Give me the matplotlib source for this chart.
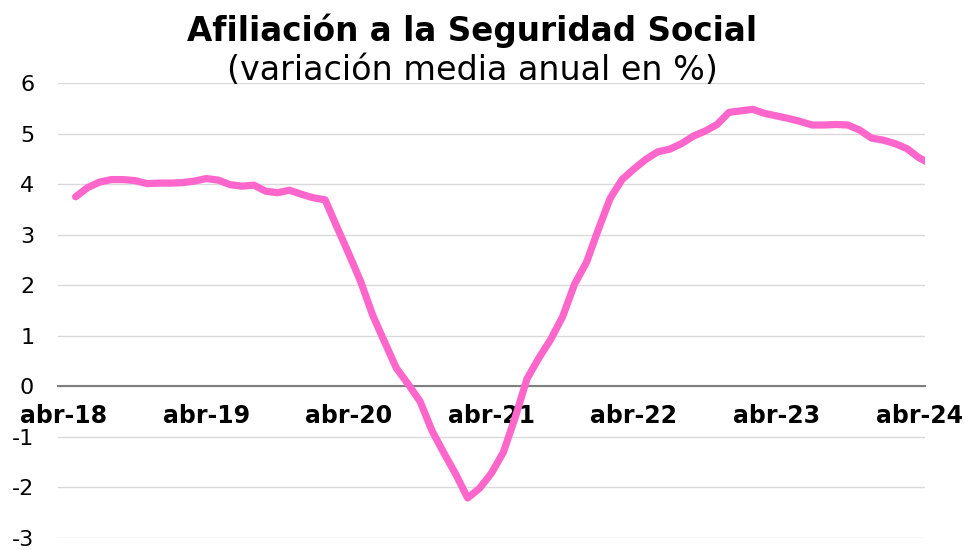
import numpy as np
import matplotlib.pyplot as plt

plt.rcParams["axes.unicode_minus"] = False

# ── datos: variación media anual de afiliados (%), may-18 .. may-24 ──
valores = [
    3.75, 3.93, 4.04, 4.09, 4.09, 4.07, 4.01, 4.02, 4.02, 4.03, 4.06,   # may-18 .. mar-19
    4.11, 4.08, 3.99, 3.96, 3.98, 3.86, 3.83, 3.88, 3.80, 3.73, 3.69, 3.15,  # abr-19 .. mar-20
    2.62, 2.07, 1.41, 0.88, 0.36, 0.04, -0.30, -0.88, -1.32, -1.74, -2.21, -2.02,  # abr-20 .. mar-21
    -1.72, -1.31, -0.62, 0.15, 0.56, 0.93, 1.38, 2.02, 2.45, 3.10, 3.72, 4.09,  # abr-21 .. mar-22
    4.30, 4.49, 4.64, 4.69, 4.80, 4.95, 5.05, 5.18, 5.42, 5.45, 5.48, 5.40,  # abr-22 .. mar-23
    5.35, 5.30, 5.24, 5.17, 5.17, 5.18, 5.17, 5.07, 4.91, 4.87, 4.80, 4.70,  # abr-23 .. mar-24
    4.52, 4.40,  # abr-24, may-24
]
meses = np.arange(1, len(valores) + 1)   # 0 = abr-18

etiquetas = ["abr-18", "abr-19", "abr-20", "abr-21", "abr-22", "abr-23", "abr-24"]
pos_etiquetas = [0, 12, 24, 36, 48, 60, 72]

fig = plt.figure(figsize=(9.64, 5.5), dpi=100)
ax = fig.add_axes([0.060, 0.022, 0.8995, 0.827])

ax.plot(meses, valores, color="#ff66cc", linewidth=5.2,
        solid_capstyle="round", solid_joinstyle="round", zorder=3)

ax.set_xlim(-0.5, 72.5)
ax.set_ylim(-3, 6)
ax.set_yticks(range(-3, 7))
ax.grid(axis="y", color="#d9d9d9", linewidth=1.0)
ax.set_axisbelow(True)

for s in ["top", "right", "left"]:
    ax.spines[s].set_visible(False)
ax.spines["bottom"].set_position(("data", 0))
ax.spines["bottom"].set_color("#7f7f7f")
ax.spines["bottom"].set_linewidth(1.5)
ax.spines["bottom"].set_zorder(2)

ax.set_xticks(pos_etiquetas)
ax.set_xticklabels(etiquetas, fontsize=17, fontweight="bold")
ax.tick_params(axis="x", length=0, pad=13)
ax.tick_params(axis="y", length=0, pad=17, labelsize=16)

fig.text(0.49, 1 - 41 / 550, "Afiliación a la Seguridad Social",
         ha="center", va="baseline", fontsize=23.5, fontweight="bold")
fig.text(0.49, 1 - 80 / 550, "(variación media anual en %)",
         ha="center", va="baseline", fontsize=24)

fig.savefig("out.png", dpi=100)
